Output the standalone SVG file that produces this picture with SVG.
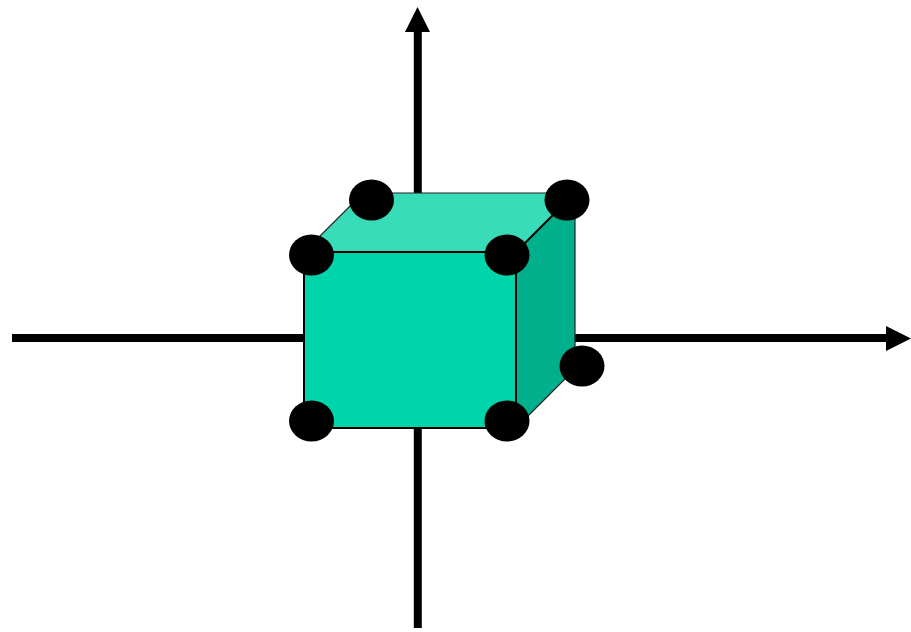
<svg xmlns="http://www.w3.org/2000/svg" width="911" height="632" viewBox="0 0 911 632">
<style>
.axis{stroke:#000;stroke-width:8;fill:none}
.head{fill:#000}
.edge{stroke:#000;stroke-width:2;fill:none}
.thin{stroke:#222;stroke-width:1.2;fill:none}
.dot{fill:#000}
</style>
<rect width="911" height="632" fill="#fff"/>
<g id="axes">
<line class="axis" x1="12" y1="338" x2="888" y2="338"/>
<polygon class="head" points="886,326 911,338.5 886,351"/>
<line class="axis" x1="417.8" y1="628" x2="417.8" y2="30"/>
<polygon class="head" points="405,32 417.5,7 430,32"/>
</g>
<g id="cube">
<polygon fill="#39dcb9" points="304,252 363,193 575,193 516,252"/>
<polygon fill="#00af8c" points="516,252 575,193 575,369 516,428"/>
<polygon fill="#00d4aa" points="304,252 516,252 516,428 304,428"/>
<polyline class="thin" points="304,252 363,193 575,193 575,369 516,428"/>
<line class="edge" x1="516" y1="252" x2="575" y2="193"/>
<rect class="edge" x="304" y="252" width="212" height="176"/>
</g>
<g id="vertex-1"><ellipse class="dot" cx="311.5" cy="255" rx="22.5" ry="20.5"/></g>
<g id="vertex-2"><ellipse class="dot" cx="507" cy="255" rx="22.5" ry="20.5"/></g>
<g id="vertex-3"><ellipse class="dot" cx="311.5" cy="421" rx="22.5" ry="20.5"/></g>
<g id="vertex-4"><ellipse class="dot" cx="507" cy="421" rx="22.5" ry="20.5"/></g>
<g id="vertex-5"><ellipse class="dot" cx="371.5" cy="200" rx="22.5" ry="20.5"/></g>
<g id="vertex-6"><ellipse class="dot" cx="567" cy="200" rx="22.5" ry="20.5"/></g>
<g id="vertex-7"><ellipse class="dot" cx="582" cy="366" rx="22.5" ry="20.5"/></g>
</svg>
